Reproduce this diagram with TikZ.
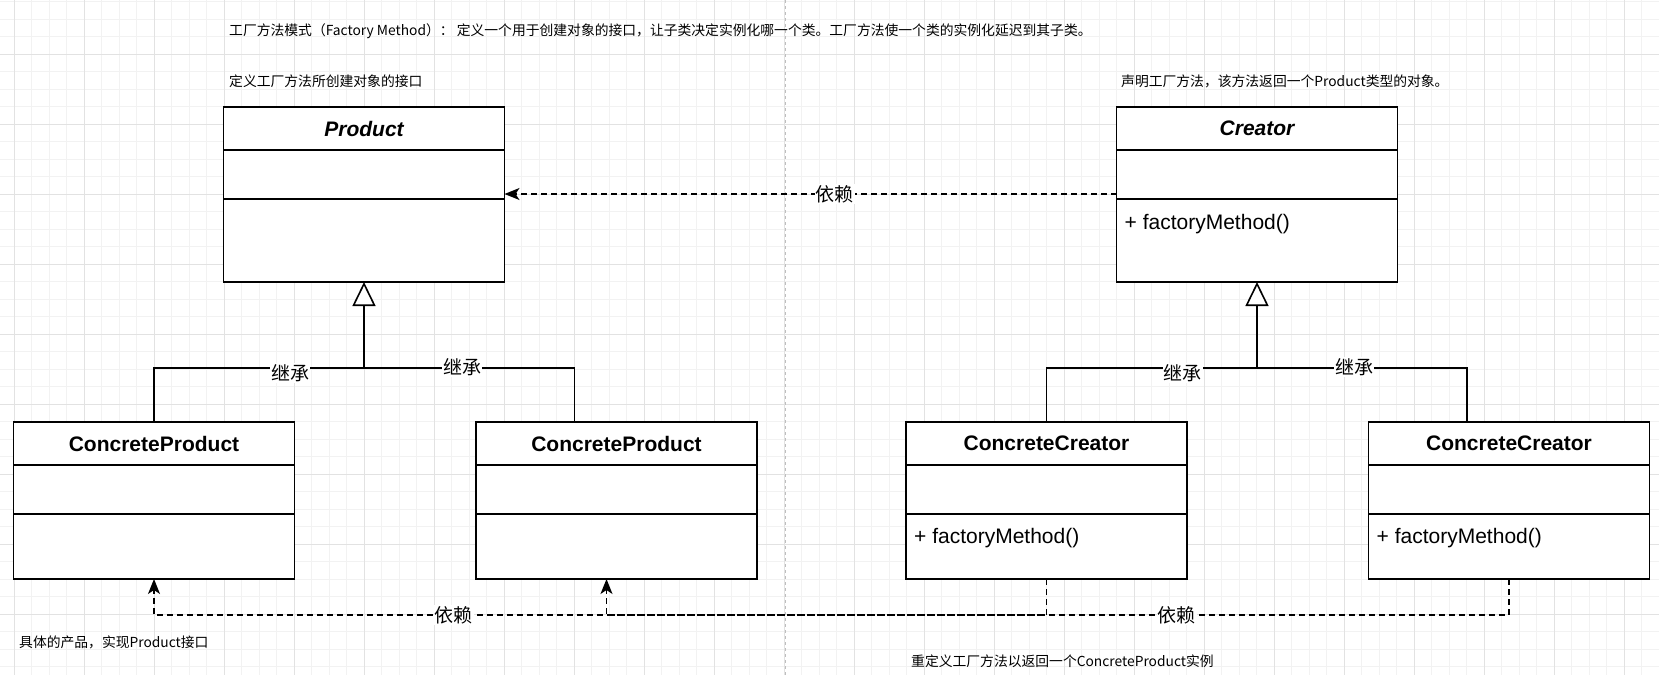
\documentclass[tikz,border=0pt]{standalone}
\usepackage{fontspec}
\setmainfont{Liberation Sans}
\newfontfamily\cjk{Noto Sans CJK SC}
\usetikzlibrary{arrows.meta,positioning,calc}

\definecolor{gridminor}{RGB}{242,242,242}
\definecolor{gridmajor}{RGB}{226,226,226}
\definecolor{sepline}{RGB}{190,190,190}

\tikzset{
  umlhead/.style={draw, fill=white, line width=1.6pt, minimum width=281pt, minimum height=43pt,
    inner sep=0pt, outer sep=0pt, font=\bfseries\fontsize{21}{25}\selectfont},
  umlattr/.style={draw, fill=white, line width=1.6pt, minimum width=281pt, minimum height=49pt,
    inner sep=0pt, outer sep=0pt},
  umlops/.style={draw, fill=white, line width=1.6pt, minimum width=281pt, inner sep=0pt, outer sep=0pt},
  optext/.style={anchor=west, inner sep=0pt, font=\fontsize{21}{25}\selectfont},
  note/.style={anchor=west, inner sep=0pt, font=\cjk\fontsize{13.8}{16}\selectfont},
  edgelabel/.style={fill=white, inner sep=1pt, font=\cjk\fontsize{19}{22}\selectfont},
  inherit/.style={line width=1.6pt},
  depend/.style={line width=1.6pt, dash pattern=on 6pt off 4pt,
    -{Stealth[length=15pt,width=12pt,inset=4pt]}},
}

\begin{document}
\begin{tikzpicture}[x=1pt,y=-1pt]
        \useasboundingbox (0,0) rectangle (1659,675);
        \fill[white] (0,0) rectangle (1659,675);
        % grid
        \foreach \i in {-1,...,94} \draw[gridminor,line width=0.8pt] ({14.3+17.5*\i},0) -- ({14.3+17.5*\i},675);
        \foreach \j in {-4,...,35} \draw[gridminor,line width=0.8pt] (0,{54.3+17.5*\j}) -- (1659,{54.3+17.5*\j});
        \foreach \i in {0,...,23} \draw[gridmajor,line width=0.8pt] ({14.3+70*\i},0) -- ({14.3+70*\i},675);
        \foreach \j in {-1,...,9} \draw[gridmajor,line width=0.8pt] (0,{54.3+70*\j}) -- (1659,{54.3+70*\j});
        \draw[sepline, line width=0.8pt, dash pattern=on 3pt off 3pt] (785,0) -- (785,675);

        % notes
        \node[note] (title) at (229,31) {工厂方法模式（Factory Method）： 定义一个用于创建对象的接口，让子类决定实例化哪一个类。工厂方法使一个类的实例化延迟到其子类。};
        \node[note] (prodnote) at (229,81) {定义工厂方法所创建对象的接口};
        \node[note] (crnote) at (1121,81) {声明工厂方法，该方法返回一个Product类型的对象。};
        \node[note] (cpnote) at (19,642) {具体的产品，实现Product接口};
        \node[note] (ccnote) at (911,661) {重定义工厂方法以返回一个ConcreteProduct实例};

        % Product
        \node[umlhead] (prod) at (364,128.5) {\itshape Product};
        \node[umlattr, below=0pt of prod] (prod-a) {};
        \node[umlops, minimum height=83pt, below=0pt of prod-a] (prod-o) {};

        % Creator
        \node[umlhead] (cr) at (1257,128.5) {\itshape Creator};
        \node[umlattr, below=0pt of cr] (cr-a) {};
        \node[umlops, minimum height=83pt, below=0pt of cr-a] (cr-o) {};
        \node[optext] (cr-fm) at ([xshift=8pt,yshift=-25pt]cr-o.north west) {+ factoryMethod()};

        % ConcreteProduct
        \node[umlhead] (cp1) at (154,443.5) {ConcreteProduct};
        \node[umlattr, below=0pt of cp1] (cp1-a) {};
        \node[umlops, minimum height=65pt, below=0pt of cp1-a] (cp1-o) {};
        \node[umlhead] (cp2) at (616.5,443.5) {ConcreteProduct};
        \node[umlattr, below=0pt of cp2] (cp2-a) {};
        \node[umlops, minimum height=65pt, below=0pt of cp2-a] (cp2-o) {};

        % ConcreteCreator
        \node[umlhead] (cc1) at (1046.5,443.5) {ConcreteCreator};
        \node[umlattr, below=0pt of cc1] (cc1-a) {};
        \node[umlops, minimum height=65pt, below=0pt of cc1-a] (cc1-o) {};
        \node[optext] (cc1-fm) at ([xshift=8pt,yshift=-24pt]cc1-o.north west) {+ factoryMethod()};
        \node[umlhead] (cc2) at (1509,443.5) {ConcreteCreator};
        \node[umlattr, below=0pt of cc2] (cc2-a) {};
        \node[umlops, minimum height=65pt, below=0pt of cc2-a] (cc2-o) {};
        \node[optext] (cc2-fm) at ([xshift=8pt,yshift=-24pt]cc2-o.north west) {+ factoryMethod()};

        % inheritance
        \coordinate (pj) at ([yshift=-86pt]prod-o.south);
        \coordinate (cj) at ([yshift=-86pt]cr-o.south);
        \draw[inherit] (cp1.north) |- node[edgelabel, pos=0.824, yshift=-5pt] {继承} (pj);
        \draw[inherit] ([xshift=-42pt]cp2.north) |- node[edgelabel, pos=0.767, yshift=1pt] {继承} (pj);
        \draw[inherit, -{Triangle[length=24pt,width=23pt,fill=white]}] (pj) -- (prod-o.south);
        \draw[inherit] (cc1.north) |- node[edgelabel, pos=0.824, yshift=-5pt] {继承} (cj);
        \draw[inherit] ([xshift=-42pt]cc2.north) |- node[edgelabel, pos=0.769, yshift=1pt] {继承} (cj);
        \draw[inherit, -{Triangle[length=24pt,width=23pt,fill=white]}] (cj) -- (cr-o.south);

        % dependencies
        \draw[depend] ([yshift=5pt]cr-a.south west) -- node[edgelabel, pos=0.46] {依赖} ([yshift=5pt]prod-a.south east);
        \draw[depend] (cc1-o.south) -- ++(0,36) -| node[edgelabel, pos=0.332] {依赖} (cp1-o.south);
        \draw[depend] (cc2-o.south) -- ++(0,36) -| node[edgelabel, pos=0.184] {依赖} ([xshift=-10pt]cp2-o.south);
\end{tikzpicture}
\end{document}
